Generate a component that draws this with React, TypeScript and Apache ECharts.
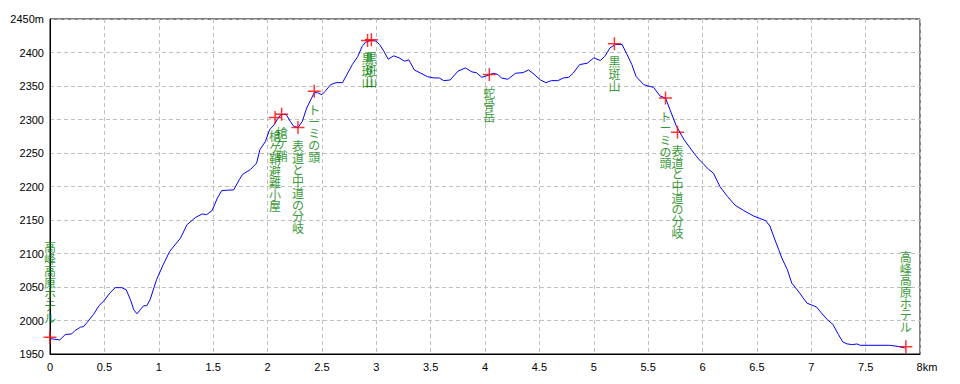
import React, { useEffect, useRef } from "react";
import * as echarts from "echarts";

// Elevation profile (distance in km, elevation in m)
const distKm = [
  0, 0.09, 0.14, 0.2, 0.23, 0.28, 0.31, 0.34, 0.4, 0.45, 0.5, 0.55, 0.6, 0.66, 0.7, 0.74, 0.77, 0.8, 0.83, 0.86,
  0.89, 0.92, 0.98, 1.04, 1.1, 1.2, 1.26, 1.34, 1.4, 1.44, 1.49, 1.54, 1.58, 1.69, 1.74, 1.77, 1.84, 1.9, 1.93, 1.98,
  2.02, 2.06, 2.09, 2.12, 2.17, 2.21, 2.24, 2.28, 2.32, 2.36, 2.43, 2.46, 2.5, 2.53, 2.58, 2.63, 2.69, 2.73, 2.78, 2.83,
  2.87, 2.9, 2.95, 3.0, 3.03, 3.07, 3.11, 3.16, 3.21, 3.26, 3.3, 3.35, 3.41, 3.47, 3.53, 3.58, 3.62, 3.68, 3.75, 3.82,
  3.88, 3.92, 3.97, 4.01, 4.08, 4.12, 4.15, 4.21, 4.28, 4.35, 4.4, 4.44, 4.51, 4.56, 4.61, 4.67, 4.72, 4.77, 4.81, 4.87,
  4.94, 5.0, 5.06, 5.1, 5.15, 5.2, 5.26, 5.3, 5.35, 5.39, 5.46, 5.5, 5.55, 5.61, 5.66, 5.7, 5.76, 5.83, 5.92, 5.97,
  6.06, 6.1, 6.16, 6.23, 6.3, 6.38, 6.47, 6.58, 6.62, 6.66, 6.7, 6.73, 6.78, 6.82, 6.87, 6.92, 6.96, 7.05, 7.1, 7.15,
  7.2, 7.25, 7.29, 7.33, 7.38, 7.42, 7.45, 7.72, 7.81, 7.86,
];
const elevM = [
  1973, 1971, 1979, 1980, 1985, 1990, 1991, 1997, 2009, 2022, 2030, 2041, 2049, 2049, 2046, 2031, 2016, 2010, 2016, 2022,
  2022, 2031, 2061, 2083, 2103, 2123, 2143, 2154, 2159, 2158, 2164, 2183, 2194, 2195, 2210, 2218, 2225, 2235, 2255, 2267,
  2285, 2292, 2300, 2307, 2308, 2297, 2290, 2288, 2297, 2317, 2340, 2340, 2337, 2342, 2352, 2355, 2355, 2367, 2382, 2394,
  2409, 2415, 2418, 2417, 2412, 2402, 2390, 2395, 2392, 2387, 2389, 2374, 2369, 2364, 2362, 2362, 2358, 2359, 2372, 2377,
  2371, 2370, 2363, 2365, 2369, 2367, 2362, 2360, 2369, 2370, 2374, 2369, 2359, 2355, 2358, 2358, 2362, 2363, 2369, 2382,
  2384, 2392, 2388, 2394, 2407, 2412, 2412, 2399, 2382, 2364, 2352, 2350, 2348, 2335, 2332, 2315, 2290, 2270, 2250, 2240,
  2225, 2220, 2200, 2185, 2172, 2164, 2156, 2149, 2141, 2123, 2106, 2093, 2076, 2056, 2046, 2035, 2026, 2020, 2010, 2001,
  1994, 1979, 1968, 1965, 1964, 1965, 1963, 1963, 1961, 1959,
];

// Waypoints
const pointKm = [0, 2.07, 2.13, 2.28, 2.43, 2.92, 2.955, 4.04, 5.19, 5.66, 5.77, 7.87];
const pointElev = [1975, 2303, 2308, 2288, 2342, 2418, 2419, 2367, 2413, 2332, 2281, 1961];
const pointNames = [
  "高峰高原ホテル",
  "槍ケ鞘避難小屋",
  "槍ケ鞘",
  "表道と中道の分岐",
  "トーミの頭",
  "黒斑山",
  "黒斑山",
  "蛇骨岳",
  "黒斑山",
  "トーミの頭",
  "表道と中道の分岐",
  "高峰高原ホテル",
];

const yMin = 1950;
const yMax = 2450;
const yStep = 50;
const xMin = 0;
const xMax = 8;
const xStep = 0.5;

const axisFont = "'Liberation Sans', Arial, sans-serif";
const cjkFont = "'Noto Sans CJK JP', sans-serif";

export default function App() {
  const ref = useRef<HTMLDivElement>(null);

  useEffect(() => {
    if (!ref.current) return;
    const chart = echarts.init(ref.current, null, { renderer: "svg" });

    const lineData = distKm.map((d, i) => [d, elevM[i]]);
    const lastIdx = pointKm.length - 1;
    const pointData = pointKm.map((d, i) => {
      const isEnd = i === 0 || i === lastIdx;
      return {
        value: [d, pointElev[i]],
        label: {
          position: isEnd ? "top" : "bottom",
          distance: isEnd ? 7 : 5,
          formatter: pointNames[i].split("").join("\n"),
        },
      };
    });

    chart.setOption({
      animation: false,
      backgroundColor: "#ffffff",
      grid: {
        left: 50,
        right: 40,
        top: 19,
        bottom: 30,
        show: true,
        borderColor: "#000000",
        borderWidth: 1,
        outerBoundsMode: "none",
      },
      xAxis: {
        type: "value",
        min: xMin,
        max: xMax,
        interval: xStep,
        axisLine: { show: true, lineStyle: { color: "#000000", width: 1 } },
        axisTick: { show: false },
        splitLine: { show: true, lineStyle: { color: "#c0c0c0", type: [4, 3], width: 1 } },
        axisLabel: {
          color: "#000000",
          fontSize: 11,
          fontFamily: axisFont,
          margin: 7,
          formatter: (v: number) => (v === xMax ? "{pad| }" + v + "km" : String(v)),
          rich: {
            pad: { width: 14, fontSize: 11, fontFamily: axisFont },
          },
        },
      },
      yAxis: {
        type: "value",
        min: yMin,
        max: yMax,
        interval: yStep,
        axisLine: { show: true, lineStyle: { color: "#000000", width: 1 } },
        axisTick: { show: false },
        splitLine: { show: true, lineStyle: { color: "#c0c0c0", type: [4, 3], width: 1 } },
        axisLabel: {
          color: "#000000",
          fontSize: 11,
          fontFamily: axisFont,
          margin: 6,
          formatter: (v: number) => (v === yMax ? v + "m" : String(v)),
        },
      },
      series: [
        {
          type: "line",
          data: lineData,
          showSymbol: false,
          symbol: "none",
          lineStyle: { color: "#0000ff", width: 1 },
          z: 2,
        },
        {
          type: "scatter",
          data: pointData,
          clip: false,
          symbol: "path://M0,6L12,6M6,0L6,12",
          symbolSize: 13,
          itemStyle: { color: "rgba(0,0,0,0)", borderColor: "#ff0000", borderWidth: 1.5 },
          label: {
            show: true,
            color: "#008000",
            fontSize: 12,
            lineHeight: 11.7,
            fontFamily: cjkFont,
            align: "center",
          },
          labelLayout: { hideOverlap: false },
          z: 3,
        },
      ],
    });

    return () => chart.dispose();
  }, []);

  return (
    <div
      ref={ref}
      style={{ position: "fixed", left: 0, top: 0, width: 960, height: 384, background: "#fff" }}
    />
  );
}
